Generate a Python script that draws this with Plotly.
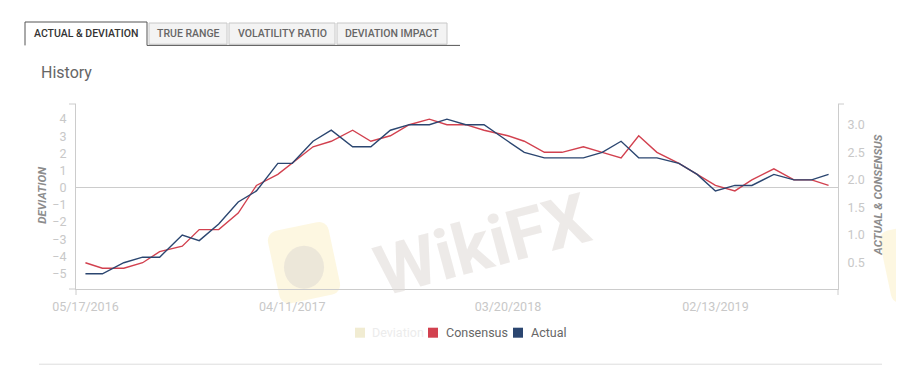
import math
import plotly.graph_objects as go

# ---------------- data ----------------
dates = ['2016-05-17', '2016-06-13', '2016-07-17', '2016-08-16', '2016-09-12', '2016-10-18',
         '2016-11-14', '2016-12-15', '2017-01-15', '2017-02-13', '2017-03-19', '2017-04-11',
         '2017-05-14', '2017-06-12', '2017-07-16', '2017-08-14', '2017-09-14', '2017-10-14',
         '2017-11-15', '2017-12-13', '2018-01-12', '2018-02-10', '2018-03-20', '2018-04-15',
         '2018-05-17', '2018-06-14', '2018-07-18', '2018-08-17', '2018-09-16', '2018-10-14',
         '2018-11-12', '2018-12-17', '2019-01-15', '2019-02-13', '2019-03-16', '2019-04-12',
         '2019-05-17', '2019-06-18', '2019-07-16', '2019-08-12']
actual = [0.3, 0.3, 0.5, 0.6, 0.6, 1.0, 0.9, 1.2, 1.6, 1.8, 2.3, 2.3, 2.7, 2.9, 2.6, 2.6, 2.9, 3.0,
          3.0, 3.1, 3.0, 3.0, 2.7, 2.5, 2.4, 2.4, 2.4, 2.5, 2.7, 2.4, 2.4, 2.3, 2.1, 1.8, 1.9, 1.9,
          2.1, 2.0, 2.0, 2.1]
consensus = [0.5, 0.4, 0.4, 0.5, 0.7, 0.8, 1.1, 1.1, 1.4, 1.9, 2.1, 2.3, 2.6, 2.7, 2.9, 2.7, 2.8, 3.0,
             3.1, 3.0, 3.0, 2.9, 2.8, 2.7, 2.5, 2.5, 2.6, 2.5, 2.4, 2.8, 2.5, 2.3, 2.1, 1.9, 1.8, 2.0,
             2.2, 2.0, 2.0, 1.9]
deviation = [-0.2, -0.1, 0.1, 0.1, -0.1, 0.2, -0.2, 0.1, 0.2, -0.1, 0.2, 0.0, 0.1, 0.2, -0.3, -0.1,
             0.1, 0.0, -0.1, 0.1, 0.0, 0.1, -0.1, -0.2, -0.1, -0.1, -0.2, 0.0, 0.3, -0.4, -0.1, 0.0,
             0.0, -0.1, 0.1, -0.1, -0.1, 0.0, 0.0, 0.2]
tick_dates = ['2016-05-17', '2017-04-11', '2018-03-20', '2019-02-13']
tick_text = ['05/17/2016', '04/11/2017', '03/20/2018', '02/13/2019']
left_ticks = [-5, -4, -3, -2, -1, 0, 1, 2, 3, 4]
right_ticks = [0.5, 1.0, 1.5, 2.0, 2.5, 3.0]
tabs = ['ACTUAL & DEVIATION', 'TRUE RANGE', 'VOLATILITY RATIO', 'DEVIATION IMPACT']
legend_names = ['Deviation', 'Consensus', 'Actual']

# ---------------- styling / layout ----------------
PAGE_OFF = 8            # default body margin of the html page
W, H = 904, 384         # window size (page coordinates below)
L, R, T, B = 76, 838, 104.3, 289.3
PW, PH = R - L, B - T
FONT = 'Roboto'
RED = '#d2414f'
NAVY = '#2b4670'
DEV = '#f1ecd2'
AXC = '#cccccc'
TICKC = '#c8c8c8'


def xp(px):
    return (px - L) / PW


def yp(py):
    return (B - py) / PH


fig = go.Figure()
fig.add_trace(go.Bar(x=dates, y=deviation, name=legend_names[0], marker_color=DEV,
                     visible='legendonly', showlegend=False, yaxis='y'))
fig.add_trace(go.Scatter(x=dates, y=consensus, name=legend_names[1], mode='lines',
                         line=dict(color=RED, width=1.4), yaxis='y2', showlegend=False))
fig.add_trace(go.Scatter(x=dates, y=actual, name=legend_names[2], mode='lines',
                         line=dict(color=NAVY, width=1.4), yaxis='y2', showlegend=False))

shapes = []
annotations = []


def rounded_rect_path(cx, cy, w, h, r, ang):
    pts = []
    corners = [(w / 2 - r, h / 2 - r, 0), (-w / 2 + r, h / 2 - r, 90),
               (-w / 2 + r, -h / 2 + r, 180), (w / 2 - r, -h / 2 + r, 270)]
    for (ox, oy, a0) in corners:
        for k in range(7):
            a = math.radians(a0 + k * 15)
            pts.append((ox + r * math.cos(a), oy + r * math.sin(a)))
    ca, sa = math.cos(math.radians(ang)), math.sin(math.radians(ang))
    out = []
    for (x, y) in pts:
        X = cx + x * ca - y * sa
        Y = cy + x * sa + y * ca
        out.append((xp(X), yp(Y)))
    return 'M ' + ' L '.join(f'{a:.4f},{b:.4f}' for a, b in out) + ' Z'


# watermark
shapes.append(dict(type='path', xref='paper', yref='paper', layer='below',
                   path=rounded_rect_path(304, 263, 62, 74, 10, -12),
                   fillcolor='rgba(252,240,200,0.55)', line=dict(width=0)))
shapes.append(dict(type='circle', xref='paper', yref='paper', layer='below',
                   x0=xp(284), x1=xp(324), y0=yp(246), y1=yp(289),
                   fillcolor='rgba(215,210,208,0.45)', line=dict(width=0)))
shapes.append(dict(type='path', xref='paper', yref='paper', layer='below',
                   path=rounded_rect_path(905, 265, 40, 74, 10, -12),
                   fillcolor='rgba(252,240,200,0.55)', line=dict(width=0)))
annotations.append(dict(text='<b>WikiFX</b>', xref='paper', yref='paper', x=xp(482), y=yp(245),
                        showarrow=False, textangle=-15, xanchor='center', yanchor='middle',
                        font=dict(family=FONT, size=70, color='rgba(222,216,214,0.55)')))

# tabs
tab_x = [(25, 147), (149, 227), (229, 335), (337, 447)]
for i, (name, (x0, x1)) in enumerate(zip(tabs, tab_x)):
    if i == 0:
        shapes.append(dict(type='path', xref='paper', yref='paper',
                           path=f'M {xp(x0)},{yp(45.7)} L {xp(x0)},{yp(22.3)} L {xp(x1)},{yp(22.3)} L {xp(x1)},{yp(45.7)}',
                           line=dict(color='#555555', width=1)))
        col = '#333333'
    else:
        shapes.append(dict(type='rect', xref='paper', yref='paper',
                           x0=xp(x0), x1=xp(x1), y0=yp(44.5), y1=yp(23.3),
                           fillcolor='#f3f3f3', line=dict(color='#c8c8c8', width=1)))
        col = '#666666'
    annotations.append(dict(text=name, xref='paper', yref='paper', x=xp((x0 + x1) / 2), y=yp(33.5),
                            showarrow=False, xanchor='center', yanchor='middle',
                            font=dict(family=FONT, size=10.5, color=col, weight=500)))
shapes.append(dict(type='line', xref='paper', yref='paper', x0=xp(147), x1=xp(460),
                   y0=yp(45.7), y1=yp(45.7), line=dict(color='#555555', width=1)))

# title
annotations.append(dict(text='History', xref='paper', yref='paper', x=xp(39), y=yp(73),
                        showarrow=False, xanchor='left', yanchor='middle',
                        font=dict(family=FONT, size=16, color='#666666')))

# axis titles
annotations.append(dict(text='<b><i>DEVIATION</i></b>', xref='paper', yref='paper',
                        x=xp(42), y=yp(196), showarrow=False, textangle=-90,
                        xanchor='center', yanchor='middle',
                        font=dict(family=FONT, size=11.5, color='#8c8c8c')))
annotations.append(dict(text='<b><i>ACTUAL &amp; CONSENSUS</i></b>', xref='paper', yref='paper',
                        x=xp(878), y=yp(196), showarrow=False, textangle=-90,
                        xanchor='center', yanchor='middle',
                        font=dict(family=FONT, size=11.5, color='#8c8c8c')))

# axis end ticks
for (xa, xb, ya, yb) in [(69, 76, T, T), (838, 844, T, T), (69, 76, B, B),
                         (76, 76, B, B + 6), (838, 838, B, B + 6)]:
    shapes.append(dict(type='line', xref='paper', yref='paper', x0=xp(xa), x1=xp(xb),
                       y0=yp(ya), y1=yp(yb), line=dict(color=AXC, width=1)))

# manual legend
leg = [(355, 370, DEV, '#ececec', legend_names[0]),
       (428, 444, RED, '#666666', legend_names[1]),
       (513, 529, NAVY, '#666666', legend_names[2])]
for (sx, tx, c, tc, name) in leg:
    shapes.append(dict(type='rect', xref='paper', yref='paper', x0=xp(sx), x1=xp(sx + 10),
                       y0=yp(338), y1=yp(328), fillcolor=c, line=dict(width=0)))
    annotations.append(dict(text=name, xref='paper', yref='paper', x=xp(tx), y=yp(333),
                            showarrow=False, xanchor='left', yanchor='middle',
                            font=dict(family=FONT, size=12.5, color=tc)))

# bottom rule
shapes.append(dict(type='line', xref='paper', yref='paper', x0=xp(39), x1=xp(882),
                   y0=yp(364.5), y1=yp(364.5), line=dict(color='#dddddd', width=1)))

fig.update_layout(
    width=W - PAGE_OFF, height=H - PAGE_OFF,
    margin=dict(l=L - PAGE_OFF, r=W - R, t=T - PAGE_OFF, b=H - B, pad=0),
    paper_bgcolor='white', plot_bgcolor='rgba(0,0,0,0)',
    showlegend=False,
    font=dict(family=FONT),
    xaxis=dict(type='date', range=['2016-05-02', '2019-08-27'],
               tickvals=tick_dates, ticktext=tick_text,
               tickfont=dict(family=FONT, size=12.5, color=TICKC),
               ticks='outside', ticklen=6, tickcolor='rgba(0,0,0,0)',
               showgrid=False, zeroline=False,
               showline=True, linecolor=AXC, linewidth=1),
    yaxis=dict(range=[-5.89, 4.87], tickvals=left_ticks,
               tickfont=dict(family=FONT, size=12.5, color=TICKC),
               ticks='outside', ticklen=6, tickcolor='rgba(0,0,0,0)',
               showgrid=False, zeroline=True, zerolinecolor=AXC, zerolinewidth=1,
               showline=True, linecolor=AXC, linewidth=1),
    yaxis2=dict(range=[0.024, 3.375], tickvals=right_ticks, tickformat='.1f',
                overlaying='y', side='right',
                tickfont=dict(family=FONT, size=12.5, color=TICKC),
                ticks='outside', ticklen=6, tickcolor='rgba(0,0,0,0)',
                showgrid=False, zeroline=False,
                showline=True, linecolor=AXC, linewidth=1),
    shapes=shapes, annotations=annotations,
)

fig.write_html('out.html')
